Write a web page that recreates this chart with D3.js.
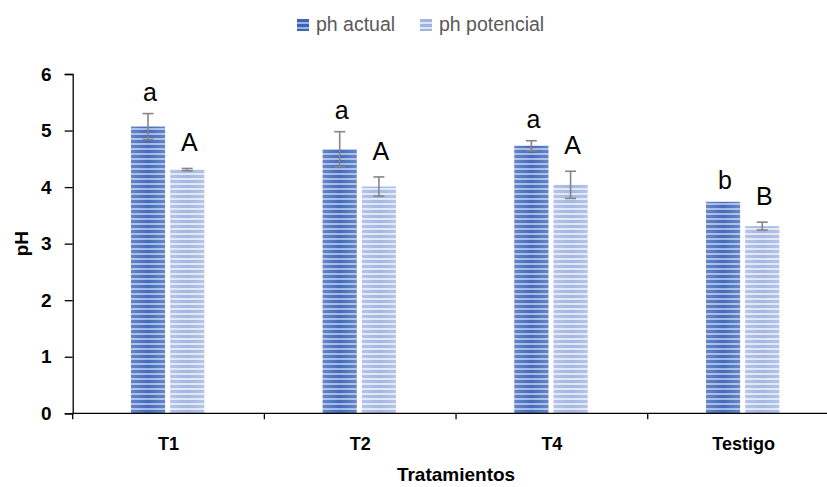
<!DOCTYPE html>
<html>
<head>
<meta charset="utf-8">
<script src="https://cdn.jsdelivr.net/npm/d3@7"></script>
<style>
  body { margin: 0; background: #fff; }
  svg { display: block; }
</style>
</head>
<body>
<script>
// chart values
const categories = ["T1", "T2", "T4", "Testigo"];
const seriesNames = ["ph actual", "ph potencial"];
const phActual = [5.07, 4.67, 4.73, 3.74];
const phActualErr = [0.23, 0.31, 0.09, 0];
const phPotencial = [4.31, 4.01, 4.04, 3.31];
const phPotencialErr = [0.02, 0.17, 0.24, 0.07];
const lettersActual = ["a", "a", "a", "b"];
const lettersPotencial = ["A", "A", "A", "B"];
const yTicks = [0, 1, 2, 3, 4, 5, 6];

const width = 827, height = 487;
const plotLeft = 72.7, plotRight = 839.4, plotTop = 74, plotBottom = 413.3;
const font = "Liberation Sans, Arial, sans-serif";

const svg = d3.select("body").append("svg")
  .attr("width", width)
  .attr("height", height);

const defs = svg.append("defs");

function stripes(id, dark, light) {
  const p = defs.append("pattern")
    .attr("id", id)
    .attr("patternUnits", "userSpaceOnUse")
    .attr("width", 8).attr("height", 5);
  p.append("rect").attr("width", 8).attr("height", 5).attr("fill", dark);
  p.append("rect").attr("y", 3).attr("width", 8).attr("height", 2).attr("fill", light);
}
stripes("pat0", "#3c64b7", "#9db4e3");
stripes("pat1", "#a0b3e1", "#dde5f5");

const sheen = defs.append("linearGradient").attr("id", "sheen");
sheen.append("stop").attr("offset", "0%").attr("stop-color", "#fff").attr("stop-opacity", 0.22);
sheen.append("stop").attr("offset", "50%").attr("stop-color", "#fff").attr("stop-opacity", 0.05);
sheen.append("stop").attr("offset", "100%").attr("stop-color", "#fff").attr("stop-opacity", 0.22);

const x0 = d3.scaleBand().domain(categories).range([plotLeft, plotRight]).padding(0);
const bw = x0.bandwidth();
const x1 = d3.scaleBand().domain(seriesNames).range([bw * 0.304, bw * 0.6865]).paddingInner(0.13);
const y = d3.scaleLinear().domain([0, 6]).range([plotBottom, plotTop]);

const series = [
  { name: seriesNames[0], values: phActual, err: phActualErr, letters: lettersActual, fill: "url(#pat0)", gap: 13 },
  { name: seriesNames[1], values: phPotencial, err: phPotencialErr, letters: lettersPotencial, fill: "url(#pat1)", gap: 17 }
];

const rows = [];
series.forEach(s => {
  categories.forEach((c, i) => {
    rows.push({ cat: c, s: s, v: s.values[i], e: s.err[i], letter: s.letters[i] });
  });
});

const g = svg.append("g");

// bars
g.selectAll("rect.bar")
  .data(rows)
  .join("rect")
  .attr("class", "bar")
  .attr("x", d => x0(d.cat) + x1(d.s.name))
  .attr("y", d => y(d.v))
  .attr("width", x1.bandwidth())
  .attr("height", d => y(0) - y(d.v))
  .attr("fill", d => d.s.fill);

g.selectAll("rect.sheen")
  .data(rows)
  .join("rect")
  .attr("class", "sheen")
  .attr("x", d => x0(d.cat) + x1(d.s.name))
  .attr("y", d => y(d.v))
  .attr("width", x1.bandwidth())
  .attr("height", d => y(0) - y(d.v))
  .attr("fill", "url(#sheen)");

// error bars
const cx = d => x0(d.cat) + x1(d.s.name) + x1.bandwidth() / 2;
const eb = g.selectAll("g.err")
  .data(rows.filter(d => d.e > 0))
  .join("g")
  .attr("class", "err")
  .attr("stroke", "#858585")
  .attr("stroke-width", 1.6);
eb.append("line")
  .attr("x1", cx).attr("x2", cx)
  .attr("y1", d => y(d.v + d.e)).attr("y2", d => y(d.v - d.e));
eb.append("line")
  .attr("x1", d => cx(d) - 5.5).attr("x2", d => cx(d) + 5.5)
  .attr("y1", d => y(d.v + d.e)).attr("y2", d => y(d.v + d.e));
eb.append("line")
  .attr("x1", d => cx(d) - 5.5).attr("x2", d => cx(d) + 5.5)
  .attr("y1", d => y(d.v - d.e)).attr("y2", d => y(d.v - d.e));

// significance letters
g.selectAll("text.letter")
  .data(rows)
  .join("text")
  .attr("class", "letter")
  .attr("x", d => cx(d) + 2)
  .attr("y", d => y(d.v + d.e) - d.s.gap)
  .attr("text-anchor", "middle")
  .attr("font-family", font)
  .attr("font-size", 25)
  .attr("fill", "#000")
  .text(d => d.letter);

// y axis
const yAxis = svg.append("g")
  .attr("transform", `translate(${plotLeft},0)`)
  .call(d3.axisLeft(y).tickValues(yTicks).tickFormat(d3.format("d")).tickSize(8).tickPadding(13));
yAxis.select(".domain").attr("stroke", "#000").attr("stroke-width", 1.3);
yAxis.selectAll(".tick line").attr("stroke", "#000").attr("stroke-width", 1.3);
yAxis.selectAll(".tick text")
  .attr("font-family", font)
  .attr("font-weight", "bold")
  .attr("font-size", 19)
  .attr("fill", "#000");

// x axis
const xAxis = svg.append("g")
  .attr("transform", `translate(0,${plotBottom})`);
xAxis.append("line")
  .attr("x1", plotLeft).attr("x2", plotRight)
  .attr("stroke", "#000").attr("stroke-width", 1.3);
xAxis.selectAll("line.tick")
  .data(categories)
  .join("line")
  .attr("class", "tick")
  .attr("x1", d => x0(d)).attr("x2", d => x0(d))
  .attr("y1", 0).attr("y2", 6)
  .attr("stroke", "#000").attr("stroke-width", 1.3);
xAxis.selectAll("text")
  .data(categories)
  .join("text")
  .attr("x", d => x0(d) + bw / 2)
  .attr("y", 37)
  .attr("text-anchor", "middle")
  .attr("font-family", font)
  .attr("font-weight", "bold")
  .attr("font-size", 18)
  .attr("fill", "#000")
  .text(d => d);

// axis titles
svg.append("text")
  .attr("x", (plotLeft + plotRight) / 2)
  .attr("y", 481)
  .attr("text-anchor", "middle")
  .attr("font-family", font)
  .attr("font-weight", "bold")
  .attr("font-size", 19)
  .attr("fill", "#000")
  .text("Tratamientos");

svg.append("text")
  .attr("transform", `translate(28,${(plotTop + plotBottom) / 2}) rotate(-90)`)
  .attr("text-anchor", "middle")
  .attr("font-family", font)
  .attr("font-weight", "bold")
  .attr("font-size", 19)
  .attr("fill", "#000")
  .text("pH");

// legend
const legendX = [297, 420];
const li = svg.append("g").selectAll("g")
  .data(series)
  .join("g")
  .attr("transform", (d, i) => `translate(${legendX[i]},19)`);
li.append("rect")
  .attr("width", 12).attr("height", 12)
  .attr("fill", d => d.fill);
li.append("text")
  .attr("x", 19)
  .attr("y", 12)
  .attr("font-family", font)
  .attr("font-size", 19.5)
  .attr("fill", "#595959")
  .text(d => d.name);
</script>
</body>
</html>
